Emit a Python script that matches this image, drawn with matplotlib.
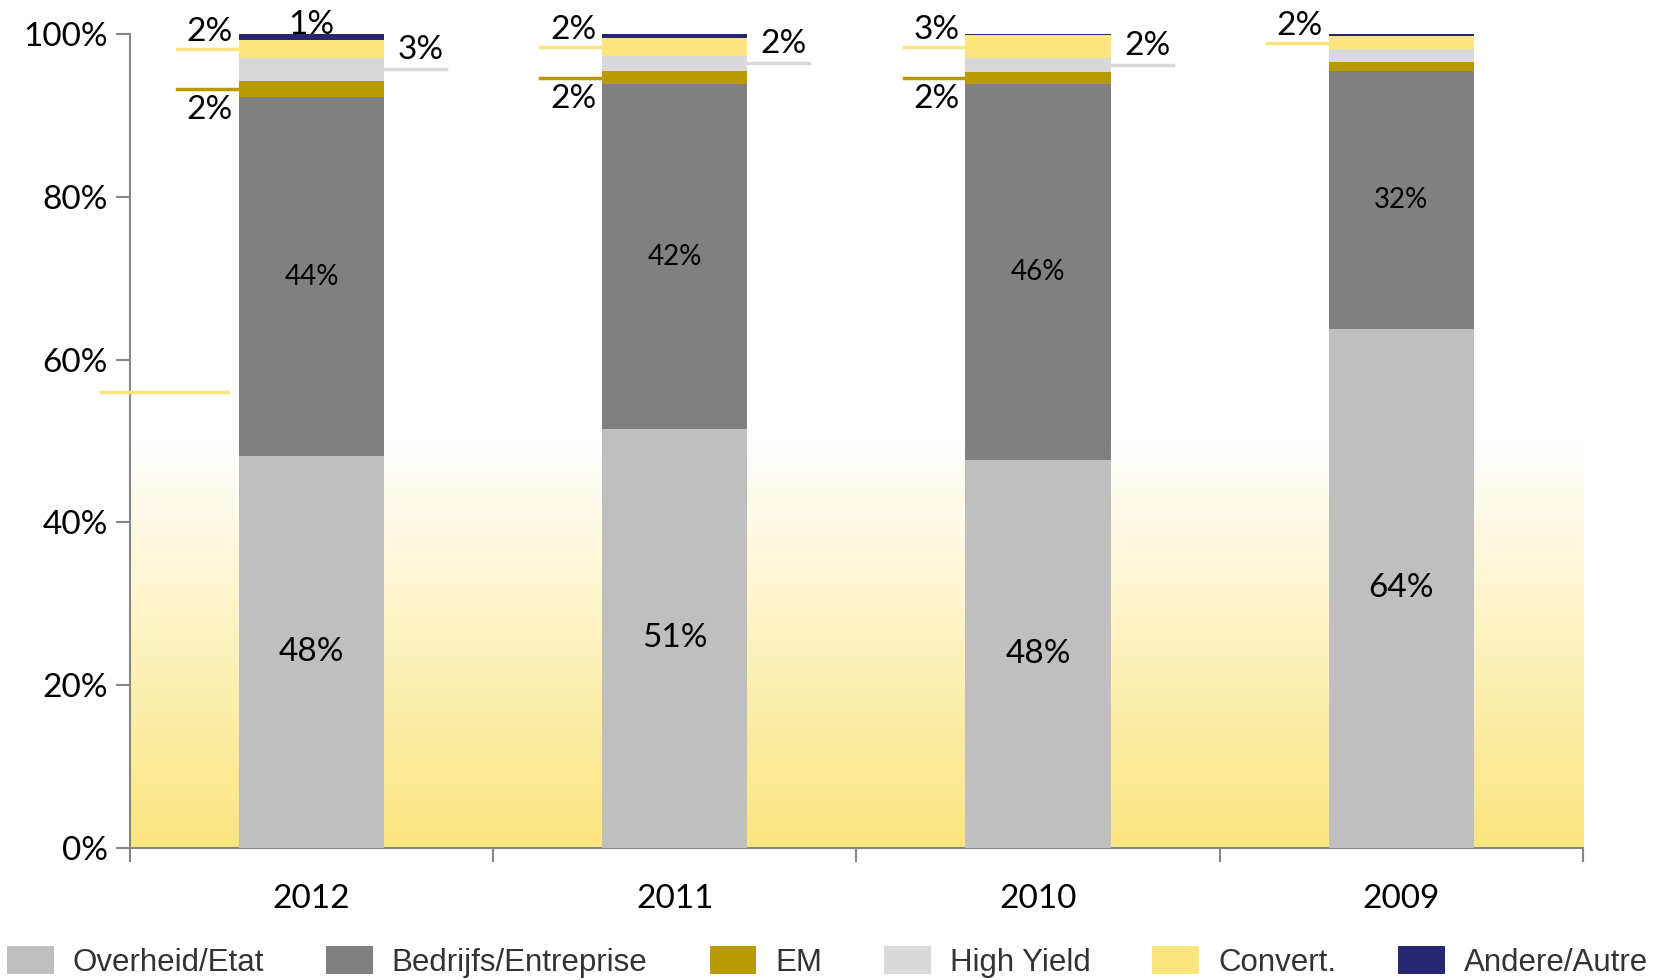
import numpy as np
import matplotlib
matplotlib.use("Agg")
import matplotlib.pyplot as plt
from matplotlib.colors import LinearSegmentedColormap

plt.rcParams['font.family'] = ['Lato', 'DejaVu Sans']

# data (percent of total)
years = ["2012", "2011", "2010", "2009"]
series = ["Overheid/Etat", "Bedrijfs/Entreprise", "EM", "High Yield", "Convert.", "Andere/Autre"]
overheid = [48.1, 51.5, 47.7, 63.8]
bedrijfs = [44.2, 42.3, 46.2, 31.7]
em = [1.9, 1.7, 1.4, 1.1]
high_yield = [2.9, 1.8, 1.7, 1.5]
convert = [2.2, 2.2, 2.9, 1.6]
andere = [0.7, 0.5, 0.1, 0.3]

# labels shown in the chart ('' = no label)
lab_overheid = ["48%", "51%", "48%", "64%"]
lab_bedrijfs = ["44%", "42%", "46%", "32%"]
lab_em = ["2%", "2%", "2%", ""]
lab_hy = ["3%", "2%", "2%", ""]
lab_convert = ["2%", "2%", "3%", "2%"]
lab_andere = ["1%", "", "", ""]

colors = ["#bfbfbf", "#808080", "#b89a00", "#d9d9d9", "#fbe57e", "#262673"]

fig = plt.figure(figsize=(16.55, 9.8), dpi=100)
ax = fig.add_axes([0.0785, 0.1347, 0.878, 0.8306])

x = np.arange(len(years))
w = 0.4
values = [overheid, bedrijfs, em, high_yield, convert, andere]
bottom = np.zeros(len(years))
bottoms = []
for vals, c, name in zip(values, colors, series):
    ax.bar(x, vals, w, bottom=bottom, color=c, label=name, zorder=3)
    bottoms.append(bottom.copy())
    bottom = bottom + np.array(vals)

# yellow gradient behind the bars (bottom half)
cmap = LinearSegmentedColormap.from_list("g", ["#fbe57e", "#ffffff"])
grad = np.linspace(0, 1, 256).reshape(-1, 1)
ax.imshow(grad, cmap=cmap, aspect="auto", origin="lower",
          extent=[-0.5, 3.5, 0, 50], zorder=0)

# labels inside bars
for i in range(len(years)):
    mid = bottoms[0][i] + overheid[i] / 2
    ax.text(x[i], mid, lab_overheid[i], ha="center", va="center", fontsize=24, zorder=5)
    mid = bottoms[1][i] + bedrijfs[i] / 2
    ax.text(x[i], mid, lab_bedrijfs[i], ha="center", va="center", fontsize=20, zorder=5)

# leader lines + outside labels
ll = 0.17
for i in range(len(years)):
    left = x[i] - w / 2
    right = x[i] + w / 2
    if lab_convert[i]:
        yc = bottoms[4][i] + convert[i] / 2
        ax.plot([left - ll, left], [yc, yc], color=colors[4], lw=2.5, zorder=4, clip_on=False)
        ax.text(left - 0.08, yc + 0.2, lab_convert[i], ha="center", va="bottom", fontsize=24, clip_on=False)
    if lab_em[i]:
        ye = bottoms[2][i] + em[i] / 2
        ax.plot([left - ll, left], [ye, ye], color=colors[2], lw=2.5, zorder=4, clip_on=False)
        ax.text(left - 0.08, ye - 0.8, lab_em[i], ha="center", va="top", fontsize=24, clip_on=False)
    if lab_hy[i]:
        yh = bottoms[3][i] + high_yield[i] / 2
        ax.plot([right, right + ll], [yh, yh], color=colors[3], lw=2.5, zorder=4, clip_on=False)
        ax.text(right + 0.1, yh + 0.5, lab_hy[i], ha="center", va="bottom", fontsize=24, clip_on=False)
    if lab_andere[i]:
        ax.text(x[i], 99.3, lab_andere[i], ha="center", va="bottom", fontsize=24, zorder=6, clip_on=False)

# stray leader line left of the axis (as in the original)
ax.plot([-0.58, -0.23], [56, 56], color=colors[4], lw=2.5, zorder=4, clip_on=False)

ax.set_xlim(-0.5, 3.5)
ax.set_ylim(0, 100)
ax.set_yticks(np.arange(0, 101, 20))
ax.set_yticklabels([f"{v}%" for v in range(0, 101, 20)])
ax.set_xticks(x)
ax.set_xticklabels(years)
ax.set_xticks(np.arange(-0.5, 4, 1), minor=True)
ax.tick_params(axis="x", which="major", length=0, labelsize=24, pad=26)
ax.tick_params(axis="x", which="minor", length=10, color="#868686", width=1.5)
ax.tick_params(axis="y", length=10, color="#868686", width=1.5, labelsize=24, pad=6)

for s in ["top", "right"]:
    ax.spines[s].set_visible(False)
for s in ["left", "bottom"]:
    ax.spines[s].set_color("#868686")
    ax.spines[s].set_linewidth(1.5)

fig.legend(loc="lower center", bbox_to_anchor=(0.5, 0.002), ncol=6, frameon=False,
           prop={"family": ["Liberation Sans", "DejaVu Sans"], "size": 22.5},
           labelcolor="#333333",
           handlelength=1.5, handleheight=1.0, handletextpad=0.6,
           columnspacing=1.98, borderpad=0, borderaxespad=0)

plt.savefig("out.png", dpi=100)
